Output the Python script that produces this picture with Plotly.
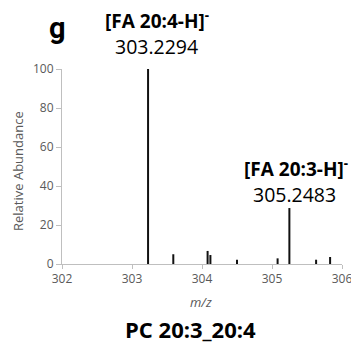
import plotly.graph_objects as go

# Data
mz = [303.2294, 303.59, 304.08, 304.12, 304.50, 305.08, 305.2483, 305.63, 305.83]
abundance = [100, 5.0, 6.7, 4.6, 2.2, 2.9, 28.7, 2.2, 3.6]
x_ticks = [302, 303, 304, 305, 306]
y_ticks = [0, 20, 40, 60, 80, 100]

W, H = 351, 344
L, R, T, B = 62, 9, 69, 80
PW, PH = W - L - R, H - T - B

def px(x):
    return (x - L) / PW

def py(y):
    return (H - B - y) / PH

xs, ys = [], []
for m, a in zip(mz, abundance):
    xs += [m, m, None]
    ys += [0, a, None]

fig = go.Figure()
fig.add_trace(go.Scatter(x=xs, y=ys, mode="lines",
                         line=dict(color="#111111", width=2),
                         hoverinfo="skip", showlegend=False))

FONT = "Open Sans"
GRAY = "#595959"
AX = "#bfbfbf"

fig.update_layout(
    width=W, height=H,
    margin=dict(l=L, r=R, t=T, b=B, autoexpand=False),
    paper_bgcolor="white", plot_bgcolor="white",
    font=dict(family=FONT, color=GRAY, size=12),
    xaxis=dict(range=[302, 306], tickvals=x_ticks, ticktext=[str(v) for v in x_ticks],
               showgrid=False, zeroline=False, showline=True, linecolor=AX, linewidth=1,
               ticks="outside", ticklen=4, tickcolor=AX, ticklabeloverflow="allow",
               automargin=False,
               tickfont=dict(size=12, color=GRAY, family=FONT)),
    yaxis=dict(range=[0, 100], tickvals=y_ticks, showgrid=False, zeroline=False,
               showline=True, linecolor=AX, linewidth=1,
               ticks="outside", ticklen=5, tickcolor=AX, automargin=False,
               tickfont=dict(size=12, color=GRAY, family=FONT)),
)

ann = [
    dict(text="<b>g</b>", x=px(57.5), y=py(28), font=dict(size=29, color="black", family="Roboto")),
    dict(text="<b>[FA 20:4-H]<sup>-</sup></b>", x=px(157), y=py(20), font=dict(size=19, color="black")),
    dict(text="303.2294", x=px(156.5), y=py(47), font=dict(size=19.5, color="black")),
    dict(text="<b>[FA 20:3-H]<sup>-</sup></b>", x=px(296), y=py(168), font=dict(size=19, color="black")),
    dict(text="305.2483", x=px(294), y=py(194), font=dict(size=19.5, color="black")),
    dict(text="<i>m/z</i>", x=px(201), y=py(302), font=dict(size=13, color=GRAY)),
    dict(text="Relative Abundance", x=px(18), y=py(171), textangle=-90, font=dict(size=13, color=GRAY)),
    dict(text="<b>PC 20:3_20:4</b>", x=px(190), y=py(329), font=dict(size=22, color="black")),
]
for a in ann:
    a.setdefault("xref", "paper")
    a.setdefault("yref", "paper")
    a.update(showarrow=False, xanchor="center", yanchor="middle")
    fig.add_annotation(**a)

fig.write_html("out.html")
